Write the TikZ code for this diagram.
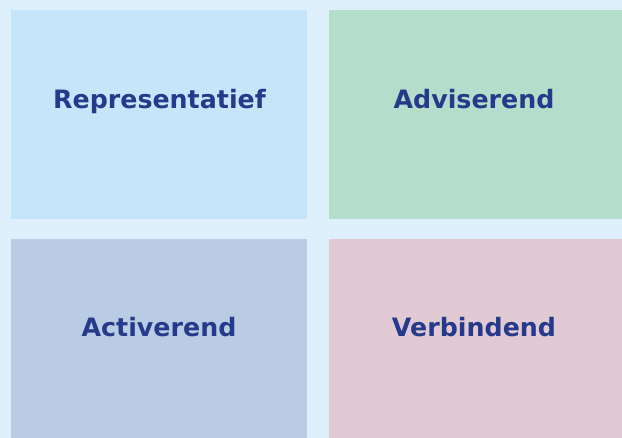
\documentclass[tikz,border=0pt]{standalone}
\usepackage{fontspec}
\setmainfont{DejaVu Sans}
\definecolor{bg}{HTML}{DFF0FD}
\definecolor{tl}{HTML}{C5E6FA}
\definecolor{tr}{HTML}{B4DDCC}
\definecolor{bl}{HTML}{BACCE3}
\definecolor{br}{HTML}{E1CAD3}
\definecolor{ink}{HTML}{253A8A}
\tikzset{
  lbl/.style={text=ink, font=\bfseries\fontsize{25.3}{30}\selectfont, inner sep=0pt, anchor=base}
}
\begin{document}
\begin{tikzpicture}[x=1pt,y=-1pt]
\fill[bg] (0,0) rectangle (622,438);
\useasboundingbox (0,0) rectangle (622,438);
\fill[tl] (11,10) rectangle (307,219);
\fill[tr] (329,10) rectangle (622,219);
\fill[bl] (11,239) rectangle (307,438);
\fill[br] (329,239) rectangle (622,438);
\node[lbl] (a) at (159.5,108.5) {Representatief};
\node[lbl] (b) at (474,108.5) {Adviserend};
\node[lbl] (c) at (159,336.5) {Activerend};
\node[lbl] (d) at (474,336.5) {Verbindend};
\end{tikzpicture}
\end{document}
